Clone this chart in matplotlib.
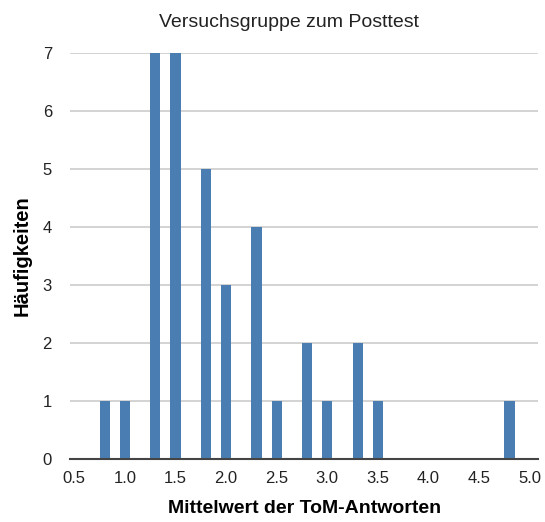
import matplotlib
matplotlib.use("Agg")
import matplotlib.pyplot as plt

plt.rcParams['font.family'] = ['Liberation Sans', 'DejaVu Sans']

# mean ToM score (rounded to one decimal) and how many children have it
scores = [0.8, 1.0, 1.3, 1.5, 1.8, 2.0, 2.3, 2.5, 2.8, 3.0, 3.3, 3.5, 4.8]
counts = [1, 1, 7, 7, 5, 3, 4, 1, 2, 1, 2, 1, 1]
xticks = [0.5, 1.0, 1.5, 2.0, 2.5, 3.0, 3.5, 4.0, 4.5, 5.0]
yticks = [0, 1, 2, 3, 4, 5, 6, 7]

fig = plt.figure(figsize=(5.45, 5.22), dpi=100)
ax = fig.add_axes([0.1284, 0.121, 0.8593, 0.777])

ax.bar(scores, counts, width=0.1, color='#4A7EB3', zorder=3)

ax.set_xlim(0.457, 5.085)
ax.set_ylim(0, 7)
ax.set_xticks(xticks)
ax.set_xticklabels(['%.1f' % t for t in xticks])
ax.set_yticks(yticks)

ax.yaxis.grid(True, color='#CCCCCC', linewidth=1.2, zorder=0)
for s in ['top', 'right', 'left']:
    ax.spines[s].set_visible(False)
ax.spines['bottom'].set_color('#444444')
ax.spines['bottom'].set_linewidth(1.5)
ax.spines['bottom'].set_zorder(4)

ax.tick_params(axis='both', length=0, labelsize=12, colors='#222222')
ax.tick_params(axis='y', pad=13)
ax.tick_params(axis='x', pad=9)

ax.set_title('Versuchsgruppe zum Posttest', fontsize=14, pad=19, color='#222222', x=0.468)
ax.set_xlabel('Mittelwert der ToM-Antworten', fontsize=14, fontweight='bold', labelpad=10)
ax.set_ylabel('Häufigkeiten', fontsize=14.5, fontweight='bold', labelpad=8)

fig.savefig('out.png', dpi=100)
